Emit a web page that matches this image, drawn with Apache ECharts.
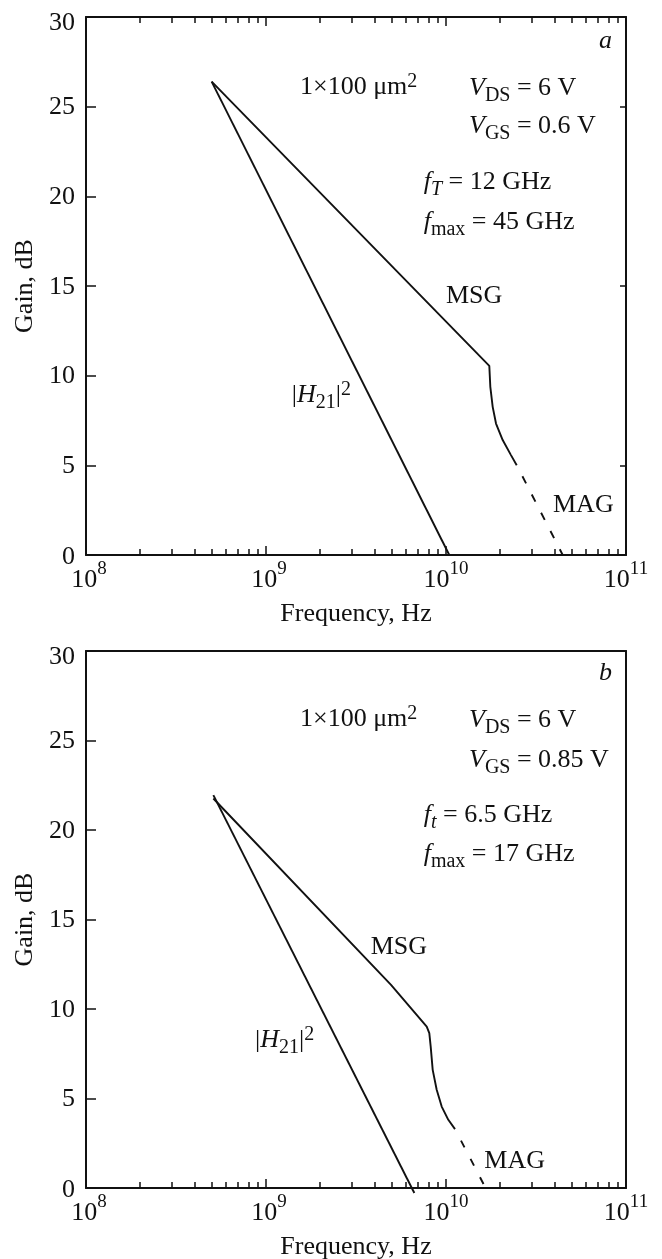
<!DOCTYPE html>
<html><head><meta charset="utf-8">
<script src="https://cdn.jsdelivr.net/npm/echarts@6/dist/echarts.min.js"></script>
<style>html,body{margin:0;padding:0;background:#fff}#c{width:662px;height:1259px}</style>
</head><body><div id="c"></div>
<script>
// ---- data ----
const decadeTicks = [1e8, 1e9, 1e10, 1e11];
const minorTicks = [2e8,3e8,4e8,5e8,6e8,7e8,8e8,9e8,
                    2e9,3e9,4e9,5e9,6e9,7e9,8e9,9e9,
                    2e10,3e10,4e10,5e10,6e10,7e10,8e10,9e10];
const gainMin = 0, gainMax = 30, gainStep = 5;
const rightTicksA = [5, 15, 25];

// panel a
const h21A = [[4.99e8, 26.4], [1.043e10, 0]];
const msgA = [[4.99e8, 26.4], [1.740e10, 10.55], [1.763e10, 9.38], [1.817e10, 8.26],
              [1.896e10, 7.33], [2.065e10, 6.41], [2.296e10, 5.57], [2.471e10, 5.01]];
const magA = [[2.471e10, 5.01], [4.45e10, 0]];
// panel b
const h21B = [[5.1e8, 21.95], [6.67e9, -0.28]];
const msgB = [[5.1e8, 21.76], [4.95e9, 11.35], [7.814e9, 9.02], [8.077e9, 8.65],
              [8.222e9, 7.90], [8.435e9, 6.60], [8.877e9, 5.49], [9.465e9, 4.55],
              [1.030e10, 3.81], [1.122e10, 3.29]];
const magB = [[1.122e10, 3.29], [1.66e10, 0]];

// ---- style ----
const F = 'Liberation Serif';
const C = '#111';

function xLabelFmt(v) {
  const e = Math.round(Math.log10(v));
  const s = String(e);
  return (s.length === 1 ? '{p| }' : '') + '{b|10}{s|' + s + '}';
}
function yLabelFmt(v) {
  if (v === 30) return '{t|30}';
  if (v === 0) return '{z|0}';
  return '{y|' + v + '}';
}
const xRich = {
  b: {fontSize: 26, fontFamily: F, color: C, lineHeight: 26},
  s: {fontSize: 19, fontFamily: F, color: C, lineHeight: 19, padding: [0, 0, 22, 0]},
  p: {width: 6, fontSize: 6, lineHeight: 6}
};
const yRich = {
  y: {fontSize: 26, fontFamily: F, color: C, lineHeight: 26, padding: [2, 0, 0, 0]},
  t: {fontSize: 26, fontFamily: F, color: C, lineHeight: 26, padding: [12, 0, 0, 0]},
  z: {fontSize: 26, fontFamily: F, color: C, lineHeight: 26, padding: [5, 0, 0, 0]}
};
const lineS = {color: C, width: 2};
const tickS = {color: C, width: 1.5};

function makeX(g, withTopTicks) {
  const base = {type: 'log', logBase: 10, gridIndex: g, min: 1e8, max: 1e11,
    splitLine: {show: false}, minorTick: {show: false}, minorSplitLine: {show: false}};
  return [
    Object.assign({}, base, {
      position: 'bottom',
      axisLine: {show: true, onZero: false, lineStyle: lineS},
      axisTick: {show: true, inside: true, length: 9, customValues: decadeTicks, lineStyle: tickS},
      axisLabel: {show: true, margin: 12, customValues: decadeTicks, formatter: xLabelFmt, rich: xRich},
      name: 'Frequency, Hz', nameLocation: 'middle', nameGap: 45,
      nameTextStyle: {fontFamily: F, fontSize: 26, color: C}
    }),
    Object.assign({}, base, {
      position: 'bottom',
      axisLine: {show: false, onZero: false},
      axisTick: {show: true, inside: true, length: 6, customValues: minorTicks, lineStyle: tickS},
      axisLabel: {show: false}
    }),
    Object.assign({}, base, {
      position: 'top',
      axisLine: {show: true, onZero: false, lineStyle: lineS},
      axisTick: {show: withTopTicks, inside: true, length: 9, customValues: decadeTicks, lineStyle: tickS},
      axisLabel: {show: false}
    }),
    Object.assign({}, base, {
      position: 'top',
      axisLine: {show: false, onZero: false},
      axisTick: {show: withTopTicks, inside: true, length: 6, customValues: minorTicks, lineStyle: tickS},
      axisLabel: {show: false}
    })
  ];
}
function makeY(g, rightTicks) {
  const base = {type: 'value', gridIndex: g, min: gainMin, max: gainMax, interval: gainStep,
    splitLine: {show: false}};
  return [
    Object.assign({}, base, {
      position: 'left',
      axisLine: {show: true, onZero: false, lineStyle: lineS},
      axisTick: {show: true, inside: true, length: 10, lineStyle: tickS},
      axisLabel: {show: true, margin: 11, formatter: yLabelFmt, rich: yRich},
      name: 'Gain, dB', nameLocation: 'middle', nameGap: 48,
      nameTextStyle: {fontFamily: F, fontSize: 26, color: C}
    }),
    Object.assign({}, base, {
      position: 'right',
      axisLine: {show: true, onZero: false, lineStyle: lineS},
      axisTick: rightTicks ? {show: true, inside: true, length: 6, customValues: rightTicks, lineStyle: tickS} : {show: false},
      axisLabel: {show: false}
    })
  ];
}
function solid(data, xi, yi) {
  return {type: 'line', data: data, xAxisIndex: xi, yAxisIndex: yi, showSymbol: false, symbol: 'none',
    clip: false, silent: true, lineStyle: {color: C, width: 1.9}, animation: false};
}
function dashed(data, xi, yi, dash, off) {
  return {type: 'line', data: data, xAxisIndex: xi, yAxisIndex: yi, showSymbol: false, symbol: 'none',
    clip: false, silent: true, lineStyle: {color: C, width: 1.9, type: dash, dashOffset: off}, animation: false};
}

const R = {
  n: {fontSize: 26, fontFamily: F, fill: C, lineHeight: 26},
  i: {fontSize: 26, fontFamily: F, fontStyle: 'italic', fill: C, lineHeight: 26},
  sub: {fontSize: 20, fontFamily: F, fill: C, lineHeight: 20, padding: [15, 0, 0, 0]},
  subi: {fontSize: 20, fontFamily: F, fontStyle: 'italic', fill: C, lineHeight: 20, padding: [15, 0, 0, 0]},
  sup: {fontSize: 20, fontFamily: F, fill: C, lineHeight: 20, padding: [0, 0, 11, 0]}
};
function txt(x, y, t) {
  return {type: 'text', x: x, y: y, silent: true,
    style: {text: t, rich: R, fill: C, fontSize: 26, fontFamily: F, align: 'left', verticalAlign: 'middle'}};
}

const texts = [
  txt(599, 41, '{i|a}'),
  txt(300, 87, '{n|1×100 μm}{sup|2}'),
  txt(469, 88, '{i|V}{sub|DS}{n| = 6 V}'),
  txt(469, 126.5, '{i|V}{sub|GS}{n| = 0.6 V}'),
  txt(423.7, 182.5, '{i|f}{subi|T}{n| = 12 GHz}'),
  txt(423.7, 222.5, '{i|f}{sub|max}{n| = 45 GHz}'),
  txt(446, 296, '{n|MSG}'),
  txt(291.7, 395, '{n||}{i|H}{sub|21}{n||}{sup|2}'),
  txt(553, 505, '{n|MAG}'),

  txt(599, 673, '{i|b}'),
  txt(300, 719, '{n|1×100 μm}{sup|2}'),
  txt(469, 720.5, '{i|V}{sub|DS}{n| = 6 V}'),
  txt(469, 760, '{i|V}{sub|GS}{n| = 0.85 V}'),
  txt(423.7, 815, '{i|f}{subi|t}{n| = 6.5 GHz}'),
  txt(423.7, 854, '{i|f}{sub|max}{n| = 17 GHz}'),
  txt(370.7, 947.5, '{n|MSG}'),
  txt(255, 1040, '{n||}{i|H}{sub|21}{n||}{sup|2}'),
  txt(484.3, 1161, '{n|MAG}')
];

const chart = echarts.init(document.getElementById('c'), null, {renderer: 'canvas'});
chart.setOption({
  backgroundColor: '#fff',
  animation: false,
  grid: [
    {left: 86, top: 17, width: 540, height: 538, containLabel: false, outerBoundsMode: 'none'},
    {left: 86, top: 651, width: 540, height: 537, containLabel: false, outerBoundsMode: 'none'}
  ],
  xAxis: makeX(0, true).concat(makeX(1, false)),
  yAxis: makeY(0, rightTicksA).concat(makeY(1, null)),
  series: [
    solid(h21A, 0, 0), solid(msgA, 0, 0), dashed(magA, 0, 0, [8, 12.5], 8),
    solid(h21B, 4, 2), solid(msgB, 4, 2), dashed(magB, 4, 2, [7.6, 13], 7.6)
  ],
  graphic: texts
});
</script>
</body></html>
